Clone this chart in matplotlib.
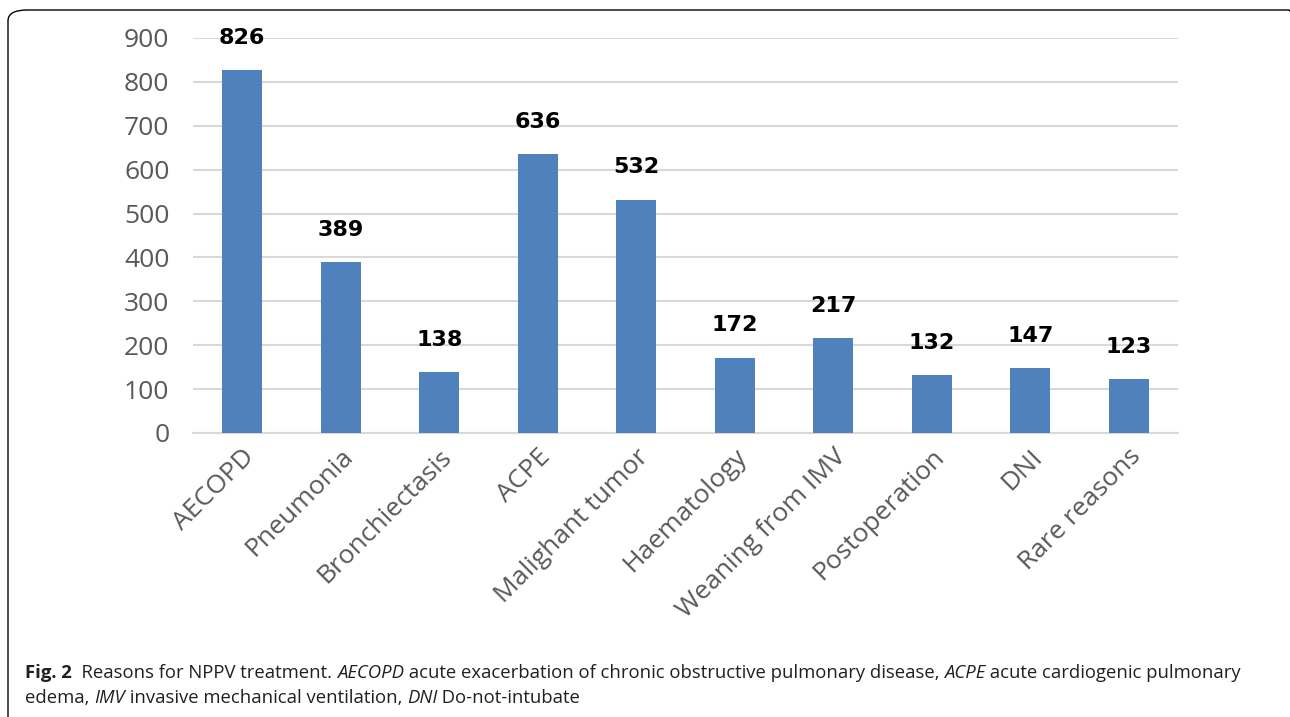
import matplotlib.pyplot as plt
from matplotlib.patches import FancyBboxPatch

categories = ['AECOPD', 'Pneumonia', 'Bronchiectasis', 'ACPE', 'Malighant tumor',
              'Haematology', 'Weaning from IMV', 'Postoperation', 'DNI', 'Rare reasons']
counts = [826, 389, 138, 636, 532, 172, 217, 132, 147, 123]
y_ticks = [0, 100, 200, 300, 400, 500, 600, 700, 800, 900]

caption_line1 = [
    ("Fig. 2", 'bold', 'normal'),
    ("  Reasons for NPPV treatment. ", 'normal', 'normal'),
    ("AECOPD", 'normal', 'italic'),
    (" acute exacerbation of chronic obstructive pulmonary disease, ", 'normal', 'normal'),
    ("ACPE", 'normal', 'italic'),
    (" acute cardiogenic pulmonary", 'normal', 'normal'),
]
caption_line2 = [
    ("edema, ", 'normal', 'normal'),
    ("IMV", 'normal', 'italic'),
    (" invasive mechanical ventilation, ", 'normal', 'normal'),
    ("DNI", 'normal', 'italic'),
    (" Do-not-intubate", 'normal', 'normal'),
]

fig = plt.figure(figsize=(12.9, 7.17), dpi=100)

# rounded frame around the figure panel (right side runs off the image)
frame = FancyBboxPatch((8 / 1290, -0.05), 1300 / 1290, 1 - 10 / 717 + 0.05,
                       boxstyle="round,pad=0,rounding_size=0.015",
                       transform=fig.transFigure, fill=False,
                       edgecolor='black', linewidth=1.0)
fig.patches.append(frame)

ax = fig.add_axes([193 / 1290, 1 - 433 / 717, 985 / 1290, 395 / 717])
ax.bar(range(len(categories)), counts, width=0.41, color='#4F81BD', zorder=3)
ax.set_xlim(-0.5, len(categories) - 0.5)
ax.set_ylim(0, 900)
ax.set_yticks(y_ticks)
ax.yaxis.grid(True, color='#D9D9D9', linewidth=1.5, zorder=0)
for side in ['left', 'right', 'top']:
    ax.spines[side].set_visible(False)
ax.spines['bottom'].set_color('#D9D9D9')
ax.spines['bottom'].set_linewidth(1.5)
ax.tick_params(axis='both', length=0, labelsize=19, labelcolor='#595959')
ax.tick_params(axis='y', pad=17)
ax.tick_params(axis='x', pad=8)
ax.set_xticks(range(len(categories)))
ax.set_xticklabels(categories, rotation=45, ha='right', rotation_mode='anchor',
                   fontfamily='Open Sans')
for lbl in ax.get_yticklabels():
    lbl.set_fontfamily('Open Sans')

for i, v in enumerate(counts):
    ax.annotate(str(v), (i, v), xytext=(0, 16), textcoords='offset points',
                ha='center', va='bottom', fontsize=16, fontweight='bold',
                fontfamily='DejaVu Sans', color='black', clip_on=False)


def write_runs(runs, x, y):
    renderer = fig.canvas.get_renderer()
    for text, weight, style in runs:
        t = fig.text(x, y, text, fontsize=13.3, fontweight=weight, fontstyle=style,
                     fontfamily='Open Sans', color='#231F20', va='baseline')
        bb = t.get_window_extent(renderer=renderer)
        x += bb.width / fig.bbox.width


write_runs(caption_line1, 25 / 1290, 1 - 678 / 717)
write_runs(caption_line2, 25 / 1290, 1 - 703 / 717)

fig.savefig('out.png', dpi=100)
